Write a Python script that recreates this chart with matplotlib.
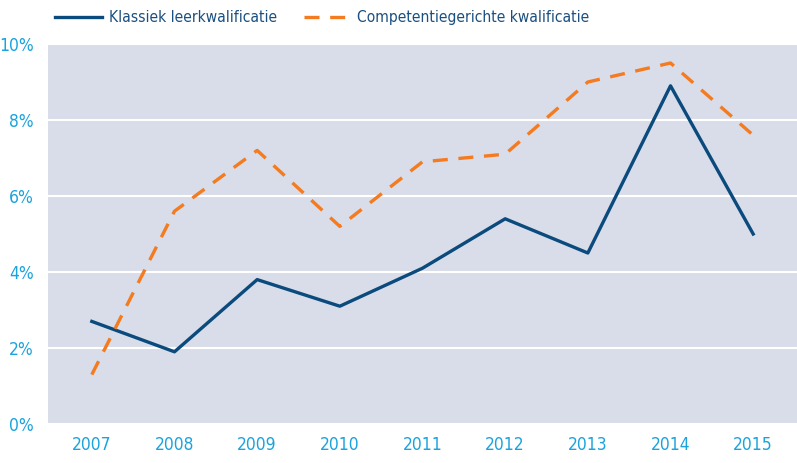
import matplotlib
matplotlib.use("Agg")
import matplotlib.pyplot as plt
from matplotlib.lines import Line2D

years = ["2007", "2008", "2009", "2010", "2011", "2012", "2013", "2014", "2015"]
klassiek = [2.7, 1.9, 3.8, 3.1, 4.1, 5.4, 4.5, 8.9, 5.0]
competentie = [1.3, 5.6, 7.2, 5.2, 6.9, 7.1, 9.0, 9.5, 7.6]
yticks = [0, 2, 4, 6, 8, 10]
ytick_labels = ["0%", "2%", "4%", "6%", "8%", "10%"]
series_names = ["Klassiek leerkwalificatie", "Competentiegerichte kwalificatie"]

plt.rcParams['font.family'] = ['DejaVu Sans']
plt.rcParams['font.stretch'] = 'condensed'

fig = plt.figure(figsize=(7.97, 4.63), dpi=100)
ax = fig.add_axes([48/797, 39/463, 749/797, 380/463])
ax.set_facecolor("#d8dde9")

x = list(range(len(years)))
navy = "#0b4a7d"
orange = "#f47b20"
ax.plot(x, klassiek, color=navy, lw=2.4, zorder=3)
ax.plot(x, competentie, color=orange, lw=2.4, dashes=(4.5, 3.2), zorder=3)

ax.set_xlim(-0.53, len(years) - 0.47)
ax.set_ylim(0, 10)
ax.set_yticks(yticks)
ax.set_yticklabels(ytick_labels)
ax.set_xticks(x)
ax.set_xticklabels(years)
ax.yaxis.grid(True, color="white", lw=1.5)
ax.set_axisbelow(True)
for s in ax.spines.values():
    s.set_visible(False)
ax.tick_params(axis="both", length=0, labelsize=12.5, colors="#1aa3dd")
ax.tick_params(axis="y", pad=10)
ax.tick_params(axis="x", pad=9)

handles = [Line2D([], [], color=navy, lw=2.4),
           Line2D([], [], color=orange, lw=2.4, dashes=(4.5, 3.2))]
leg = fig.legend(handles, series_names, loc="upper left", bbox_to_anchor=(0.052, 1.008),
                 ncol=2, frameon=False, fontsize=11.2, handlelength=3.0, handletextpad=0.45,
                 columnspacing=1.7, labelcolor="#1b4f80")

fig.savefig("out.png", dpi=100)
